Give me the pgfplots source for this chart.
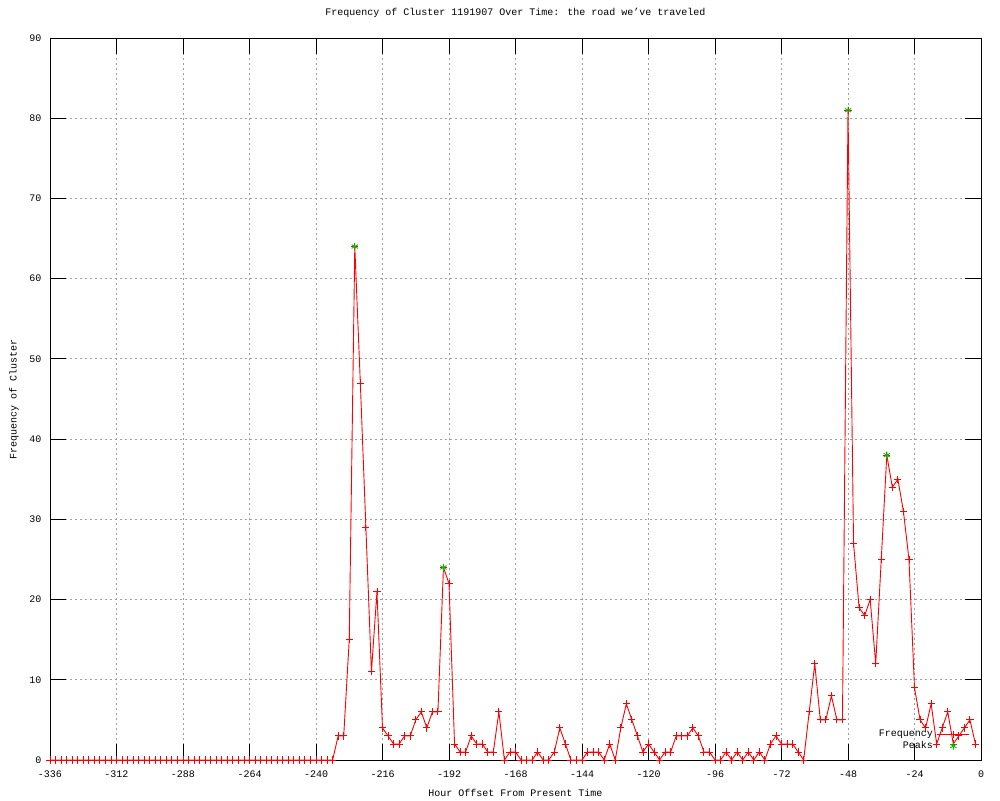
\documentclass[border=0pt]{standalone}
\usepackage{fontspec}
\setmainfont{Liberation Mono}
\usepackage{pgfplots}
\pgfplotsset{compat=1.18}
\definecolor{peakgreen}{RGB}{0,192,0}

\begin{document}
\begin{tikzpicture}
\begin{axis}[
  scale only axis,
  width=931pt, height=722pt,
  xmin=-336, xmax=0, ymin=0, ymax=90,
  enlargelimits=false,
  xtick={-336,-312,...,0},
  ytick={0,10,...,90},
  tick pos=both,
  tick align=inside,
  major tick length=16pt,
  grid=major,
  major grid style={gray!75, line width=0.8pt, dash pattern=on 2pt off 3pt},
  axis line style={line width=0.9pt},
  every tick/.style={black, line width=0.9pt},
  /pgf/number format/assume math mode=true,
  font=\fontsize{10}{12}\selectfont,
  xticklabel style={anchor=base, yshift=-17pt},
  yticklabel style={anchor=east, xshift=-5pt},
  title={Frequency of Cluster 1191907 Over Time: the road we've traveled},
  title style={at={(axis description cs:0.5,1)}, anchor=base, yshift=16pt},
  xlabel={Hour Offset From Present Time},
  xlabel style={at={(axis description cs:0.5,0)}, anchor=base, yshift=-36pt},
  ylabel={Frequency of Cluster},
  ylabel style={at={(axis description cs:-0.0387,0.5)}, anchor=center},
  legend plot pos=right,
  legend cell align=right,
  legend style={at={(axis description cs:1,0)}, anchor=south east,
    xshift=-11pt, yshift=8pt, draw=none, fill=none, inner sep=0pt,
    row sep=0pt, column sep=3pt,
    nodes={inner sep=1pt, text height=7pt, text depth=2.5pt},
    font=\fontsize{10}{12}\selectfont},
  legend image code/.code={\draw[mark repeat=2,mark phase=2,#1]
    plot coordinates {(0pt,0pt) (16pt,0pt) (32pt,0pt)};},
]
\coordinate (sw) at (rel axis cs:0,0);
\coordinate (ne) at (rel axis cs:1,1);

\addplot[color=red, line width=0.9pt, mark=+, mark size=3.6pt,
  mark options={line width=0.9pt}]
  coordinates {
  (-336,0)(-334,0)(-332,0)(-330,0)(-328,0)(-326,0)(-324,0)(-322,0)(-320,0)(-318,0)
  (-316,0)(-314,0)(-312,0)(-310,0)(-308,0)(-306,0)(-304,0)(-302,0)(-300,0)(-298,0)
  (-296,0)(-294,0)(-292,0)(-290,0)(-288,0)(-286,0)(-284,0)(-282,0)(-280,0)(-278,0)
  (-276,0)(-274,0)(-272,0)(-270,0)(-268,0)(-266,0)(-264,0)(-262,0)(-260,0)(-258,0)
  (-256,0)(-254,0)(-252,0)(-250,0)(-248,0)(-246,0)(-244,0)(-242,0)(-240,0)(-238,0)
  (-236,0)(-234,0)(-232,3)(-230,3)(-228,15)(-226,64)(-224,47)(-222,29)(-220,11)(-218,21)
  (-216,4)(-214,3)(-212,2)(-210,2)(-208,3)(-206,3)(-204,5)(-202,6)(-200,4)(-198,6)
  (-196,6)(-194,24)(-192,22)(-190,2)(-188,1)(-186,1)(-184,3)(-182,2)(-180,2)(-178,1)
  (-176,1)(-174,6)(-172,0)(-170,1)(-168,1)(-166,0)(-164,0)(-162,0)(-160,1)(-158,0)
  (-156,0)(-154,1)(-152,4)(-150,2)(-148,0)(-146,0)(-144,0)(-142,1)(-140,1)(-138,1)
  (-136,0)(-134,2)(-132,0)(-130,4)(-128,7)(-126,5)(-124,3)(-122,1)(-120,2)(-118,1)
  (-116,0)(-114,1)(-112,1)(-110,3)(-108,3)(-106,3)(-104,4)(-102,3)(-100,1)(-98,1)
  (-96,0)(-94,0)(-92,1)(-90,0)(-88,1)(-86,0)(-84,1)(-82,0)(-80,1)(-78,0)
  (-76,2)(-74,3)(-72,2)(-70,2)(-68,2)(-66,1)(-64,0)(-62,6)(-60,12)(-58,5)
  (-56,5)(-54,8)(-52,5)(-50,5)(-48,81)(-46,27)(-44,19)(-42,18)(-40,20)(-38,12)
  (-36,25)(-34,38)(-32,34)(-30,35)(-28,31)(-26,25)(-24,9)(-22,5)(-20,4)(-18,7)
  (-16,2)(-14,4)(-12,6)(-10,2)(-8,3)(-6,4)(-4,5)(-2,2)
  };
\addlegendentry{Frequency}

\addplot[only marks, color=peakgreen, mark=asterisk, mark size=3.6pt,
  mark options={line width=0.9pt}]
  coordinates {(-226,64)(-194,24)(-48,81)(-34,38)};
\addlegendentry{Peaks}
\end{axis}
\pgfresetboundingbox
\path[use as bounding box] ([xshift=-50pt,yshift=-40pt]sw) rectangle ([xshift=19pt,yshift=38pt]ne);
\end{tikzpicture}
\end{document}
